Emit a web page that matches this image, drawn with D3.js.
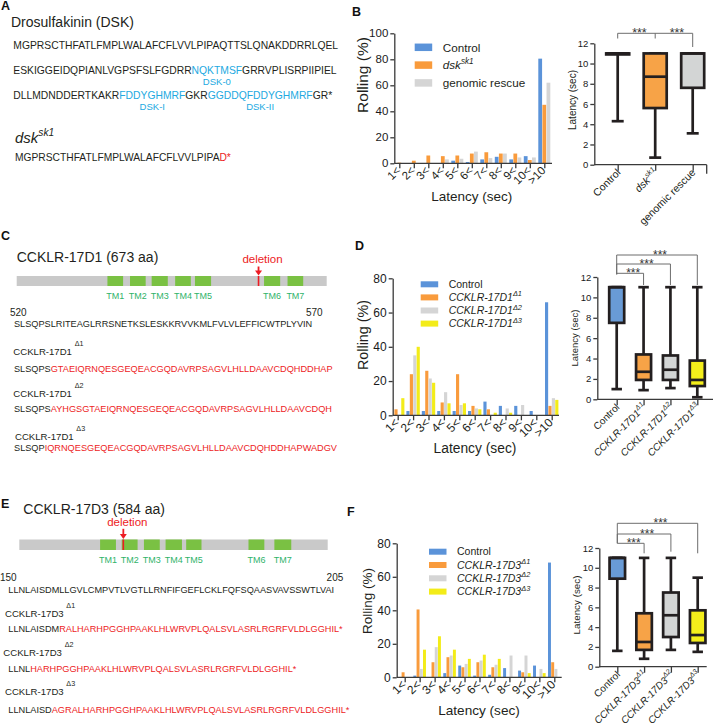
<!DOCTYPE html>
<html><head><meta charset="utf-8">
<script src="https://cdn.jsdelivr.net/npm/d3@7"></script>
<style>body{margin:0;background:#fff}</style>
</head><body>
<svg id="c" width="716" height="725"></svg>
<script>
// ---------------- DATA ----------------
const latencyCats = ["1<","2<","3<","4<","5<","6<","7<","8<","9<","10<",">10"];
const barTicksB = [0,20,40,60,80,100];
const barTicksDF = [0,20,40,60,80];
const boxTicks = [0,2,4,6,8,10,12];

// Panel B: % rolling by latency
const dskSeriesNames = ["Control","dsk","genomic rescue"];
const dskControl = [0,0,0,0,2,1,3,5,3,5.5,80.5];
const dskMutant  = [0.5,2,6,5.5,6,7.5,8.5,7.5,7.5,2.5,45];
const dskRescue  = [0,0,0,3,3.5,9,4,7.5,4.5,4.5,62];
// Panel B box plot [min,q1,median,q3,max]
const dskBoxGroups = ["Control","dsk","genomic rescue"];
const dskBoxStats = [[4.3,10.9,11,11,11],[0.7,5.6,8.7,11,11],[3.1,7.6,11,11,11]];

// Panel D
const d1SeriesNames = ["Control","D1","D2","D3"];
const d1Control = [0,2.5,2.5,2.5,2.5,2.5,8,5.5,5.5,2.5,66];
const d1Delta1  = [3.5,24,26,7.5,24,5.5,3.5,0,0,0,5.5];
const d1Delta2  = [0,35,21.5,13.5,6,4,0,4,6,0,10];
const d1Delta3  = [10,40,19,7,7,3.5,1.5,1.5,0,0,9];
const d1BoxGroups = ["Control","D1","D2","D3"];
const d1BoxStats = [[1,7.5,11,11,11],[0.9,1.9,2.7,4.4,11],[1.1,1.9,2.9,4.3,11],[0.2,1.3,1.9,3.8,11]];

// Panel F
const d3SeriesNames = ["Control","D1","D2","D3"];
const d3Control = [0,1,0,2.5,7,1,1.5,5.5,4,7,68.5];
const d3Delta1  = [3,40.5,9,12,6,9,6,0,3,0,9];
const d3Delta2  = [0,5,18,13,8,10,7.5,13,13,5,5];
const d3Delta3  = [0,16.5,24.5,16.5,11,13.5,11,0,2.5,2.5,0];
const d3BoxGroups = ["Control","D1","D2","D3"];
const d3BoxStats = [[1.6,8.9,11,11,11],[0.8,1.7,2.5,5.4,11],[1.7,3,5.2,7.5,11],[1.5,2.4,3.2,5.7,9]];

// Protein schematics (aa coordinates)
const cck17D1Length = 673;
const cck17D1TM = [[197,231],[246,280],[293,328],[344,378],[387,422],[537,572],[588,622]];
const cck17D1Deletion = 525;
const cck17D3Length = 584;
const cck17D3TM = [[153,183],[194,224],[236,266],[277,308],[316,345],[434,464],[483,515]];
const cck17D3Deletion = 197;
const tmLabels = ["TM1","TM2","TM3","TM4","TM5","TM6","TM7"];

// ---------------- STYLE ----------------
const FONT = "'Liberation Sans', Arial, Helvetica, sans-serif";
const INK = "#231f20";
const AX = "#3a3a3a";
const BLUE = "#5b93d9", ORANGE = "#f99b3c", GRAY = "#d5d5d5", YELLOW = "#f3ec19";
const BOXBLUE = "#699bd6", BOXORANGE = "#f7a347", BOXGRAY = "#d3d5d5", BOXYELLOW = "#f4ee1b";
const SEQBLUE = "#22a9e1", RED = "#ed1c24", TMGREEN = "#7ac143", TMTEXT = "#2fb36a", BARGRAY = "#c9c9c9";

const svg = d3.select("#c").attr("font-family", FONT);

function rich(g, x, y, segs, size, opt = {}) {
  const t = g.append("text").attr("x", x).attr("y", y).attr("font-size", size)
    .attr("fill", opt.fill || INK).attr("font-family", FONT);
  if (opt.anchor) t.attr("text-anchor", opt.anchor);
  if (opt.transform) t.attr("transform", opt.transform);
  if (opt.weight) t.attr("font-weight", opt.weight);
  const supK = opt.supK || 0.7, supDy = opt.supDy || 0.42;
  let up = false;
  segs.forEach(s => {
    const sp = t.append("tspan").text(s.t);
    if (s.c) sp.attr("fill", s.c);
    if (s.i) sp.attr("font-style", "italic");
    if (s.sup) { sp.attr("font-size", size * supK); if (!up) sp.attr("dy", -size * supDy); up = true; }
    else if (up) { sp.attr("dy", size * supDy); up = false; }
  });
  return t;
}
function fitRich(g, x, y, segs, target, opt = {}) {
  const t = rich(g, x, y, segs, 10, opt);
  const w = t.node().getComputedTextLength();
  t.remove();
  return rich(g, x, y, segs, 10 * target / w, opt);
}
function segCenter(textSel, segs, idx) {
  let start = 0;
  for (let i = 0; i < idx; i++) start += segs[i].t.length;
  const n = textSel.node();
  const a = n.getStartPositionOfChar(start).x;
  const b = n.getEndPositionOfChar(start + segs[idx].t.length - 1).x;
  return (a + b) / 2;
}
function label(g, x, y, s, size, opt = {}) {
  const t = g.append("text").attr("x", x).attr("y", y).attr("font-size", size)
    .attr("fill", opt.fill || INK).text(s);
  if (opt.anchor) t.attr("text-anchor", opt.anchor);
  if (opt.weight) t.attr("font-weight", opt.weight);
  if (opt.italic) t.attr("font-style", "italic");
  if (opt.transform) t.attr("transform", opt.transform);
  return t;
}

// ---------------- PANEL LETTERS ----------------
[["A",1,10],["B",352,16],["C",1,240],["D",355,250],["E",1,508],["F",347,516]]
  .forEach(([s,x,y]) => label(svg, x, y, s, 12.5, {weight: "bold", fill: "#111"}));

// ---------------- PANEL A ----------------
const gA = svg.append("g");
label(gA, 11, 26.5, "Drosulfakinin (DSK)", 14);
const seqA1 = [{t:"MGPRSCTHFATLFMPLWALAFCFLVVLPIPAQTTSLQNAKDDRRLQEL"}];
const seqA2 = [{t:"ESKIGGEIDQPIANLVGPSFSLFGDRR"},{t:"NQKTMSF",c:SEQBLUE},{t:"GRRVPLISRPIIPIEL"}];
const seqA3 = [{t:"DLLMDNDDERTKAKR"},{t:"FDDYGHMRF",c:SEQBLUE},{t:"GKR"},{t:"GGDDQFDDYGHMRF",c:SEQBLUE},{t:"GR*"}];
const seqA4 = [{t:"MGPRSCTHFATLFMPLWALAFCFLVVLPIPA"},{t:"D*",c:RED}];
fitRich(gA, 13.3, 49, seqA1, 325);
const tA2 = fitRich(gA, 13.3, 74, seqA2, 323.4);
const tA3 = fitRich(gA, 13.3, 99, seqA3, 319.4);
label(gA, segCenter(tA2, seqA2, 1), 85, "DSK-0", 9.5, {anchor:"middle", fill:SEQBLUE});
label(gA, segCenter(tA3, seqA3, 1), 109.5, "DSK-I", 9.5, {anchor:"middle", fill:SEQBLUE});
label(gA, segCenter(tA3, seqA3, 3), 109.5, "DSK-II", 9.5, {anchor:"middle", fill:SEQBLUE});
rich(gA, 15, 143.3, [{t:"dsk",i:true},{t:"sk1",i:true,sup:true}], 15, {supK:0.68, supDy:0.5});
fitRich(gA, 15, 160.7, seqA4, 216);

// ---------------- PROTEIN SCHEMATIC ----------------
function protein(g, o) {
  const s = d3.scaleLinear().domain([0, o.len]).range([o.x0, o.x1]);
  g.append("rect").attr("x", s(0)).attr("y", o.y).attr("width", s(o.len) - s(0)).attr("height", o.h).attr("fill", BARGRAY);
  g.selectAll("rect.tm").data(o.tm).join("rect").attr("class","tm")
    .attr("x", d => s(d[0])).attr("y", o.y).attr("width", d => s(d[1]) - s(d[0])).attr("height", o.h).attr("fill", TMGREEN);
  g.selectAll("text.tm").data(o.tm).join("text").attr("class","tm")
    .attr("x", d => (s(d[0]) + s(d[1])) / 2).attr("y", o.tmY).attr("text-anchor","middle")
    .attr("font-size", 9).attr("fill", TMTEXT).text((d,i) => tmLabels[i]);
  const dx = s(o.del);
  g.append("line").attr("x1", dx).attr("x2", dx).attr("y1", o.y).attr("y2", o.y + o.h).attr("stroke", RED).attr("stroke-width", 1.6);
  g.append("line").attr("x1", dx).attr("x2", dx).attr("y1", o.arrowTop).attr("y2", o.y - 4).attr("stroke", RED).attr("stroke-width", 1.8);
  g.append("path").attr("d", `M${dx-3.5},${o.y-5.5}L${dx+3.5},${o.y-5.5}L${dx},${o.y-0.5}Z`).attr("fill", RED);
  label(g, dx + 4, o.delY, "deletion", 11.5, {anchor:"middle", fill: RED});
}

// ---------------- PANEL C ----------------
const gC = svg.append("g");
label(gC, 16.7, 261.7, "CCKLR-17D1 (673 aa)", 14);
protein(gC, {len: cck17D1Length, x0: 16.7, x1: 326.7, y: 276, h: 10, tm: cck17D1TM, del: cck17D1Deletion, tmY: 299.3, arrowTop: 266.5, delY: 263.3});
label(gC, 10, 315.7, "520", 10);
label(gC, 322.7, 315.7, "570", 10, {anchor:"end"});
fitRich(gC, 14, 327.3, [{t:"SLSQPSLRITEAGLRRSNETKSLESKKRVVKMLFVLVLEFFICWTPLYVIN"}], 298.7);
const labOpt = {supK: 0.75, supDy: 0.95};
rich(gC, 13.3, 355, [{t:"CCKLR-17D1 "},{t:"Δ1",sup:true}], 9.6, labOpt);
fitRich(gC, 14, 372.3, [{t:"SLSQPS"},{t:"GTAEIQRNQESGEQEACGQDAVRPSAGVLHLLDAAVCDQHDDHAP",c:RED}], 319.3);
rich(gC, 13.3, 396.7, [{t:"CCKLR-17D1 "},{t:"Δ2",sup:true}], 9.6, labOpt);
fitRich(gC, 14, 411.7, [{t:"SLSQPS"},{t:"AYHGSGTAEIQRNQESGEQEACGQDAVRPSAGVLHLLDAAVCDQH",c:RED}], 318.7);
rich(gC, 15, 440, [{t:"CCKLR-17D1 "},{t:"Δ3",sup:true}], 9.6, labOpt);
fitRich(gC, 14, 450.7, [{t:"SLSQP"},{t:"IQRNQESGEQEACGQDAVRPSAGVLHLLDAAVCDQHDDHAPWADGV",c:RED}], 323.7);

// ---------------- PANEL E ----------------
const gE = svg.append("g");
label(gE, 23.3, 513.5, "CCKLR-17D3 (584 aa)", 14);
protein(gE, {len: cck17D3Length, x0: 19.3, x1: 327.7, y: 539.5, h: 10.5, tm: cck17D3TM, del: cck17D3Deletion, tmY: 563.3, arrowTop: 528.8, delY: 526.3});
label(gE, 0, 580.7, "150", 10);
label(gE, 343.3, 580.7, "205", 10, {anchor:"end"});
fitRich(gE, 8.3, 593.3, [{t:"LLNLAISDMLLGVLCMPVTLVGTLLRNFIFGEFLCKLFQFSQAASVAVSSWTLVAI"}], 326.7);
rich(gE, 5, 617.3, [{t:"CCKLR-17D3 "},{t:"Δ1",sup:true}], 9.6, labOpt);
fitRich(gE, 8.3, 631.7, [{t:"LLNLAISDM"},{t:"RALHARHPGGHPAAKLHLWRVPLQALSVLASRLRGRFVLDLGGHIL*",c:RED}], 335);
rich(gE, 3.3, 656, [{t:"CCKLR-17D3 "},{t:"Δ2",sup:true}], 9.6, labOpt);
fitRich(gE, 8.3, 672.3, [{t:"LLNL"},{t:"HARHPGGHPAAKLHLWRVPLQALSVLASRLRGRFVLDLGGHIL*",c:RED}], 288.4);
rich(gE, 5, 695, [{t:"CCKLR-17D3 "},{t:"Δ3",sup:true}], 9.6, labOpt);
fitRich(gE, 8.3, 713.3, [{t:"LLNLAISD"},{t:"AGRALHARHPGGHPAAKLHLWRVPLQALSVLASRLRGRFVLDLGGHIL*",c:RED}], 341.7);

// ---------------- BAR PANELS ----------------
function styleAxis(a, fs) {
  a.attr("font-family", FONT).attr("font-size", fs).attr("color", AX);
  a.selectAll("path,line").attr("stroke", AX).attr("stroke-width", 1.3);
  a.selectAll("text").attr("fill", "#1a1a1a");
}
function barPanel(o) {
  const g = svg.append("g");
  const y = d3.scaleLinear().domain([0, o.ymax]).range([o.y0, o.yTop]);
  const x = d3.scalePoint().domain(latencyCats).range([o.c0, o.c1]);
  const xi = d3.scaleBand().domain(o.names).range([-o.gw / 2, o.gw / 2]).paddingInner(0.08);
  o.series.forEach((vals, si) => {
    g.append("g").selectAll("rect").data(vals).join("rect")
      .attr("x", (d, i) => x(latencyCats[i]) + xi(o.names[si]))
      .attr("width", xi.bandwidth())
      .attr("y", d => y(d)).attr("height", d => y(0) - y(d))
      .attr("fill", o.colors[si]);
  });
  const ya = g.append("g").attr("transform", `translate(${o.ax},0)`)
    .call(d3.axisLeft(y).tickValues(o.yticks).tickSize(4).tickSizeOuter(0).tickPadding(2));
  styleAxis(ya, o.tickFs);
  const xa = g.append("g").attr("transform", `translate(0,${o.y0})`)
    .call(d3.axisBottom(x).tickSize(5).tickFormat(""));
  xa.select(".domain").remove();
  styleAxis(xa, o.tickFs);
  g.append("line").attr("x1", o.ax).attr("x2", o.axEnd).attr("y1", o.y0).attr("y2", o.y0)
    .attr("stroke", AX).attr("stroke-width", 1.3);
  latencyCats.forEach(c => label(g, 0, 0, c, o.xFs, {anchor: "end",
    transform: `translate(${x(c) + 2},${o.y0 + 8}) rotate(-45)`}));
  label(g, 0, 0, "Rolling (%)", o.yTitleFs, {anchor: "middle", transform: `translate(${o.yTitleX},${o.yTitleY}) rotate(-90)`});
  label(g, o.xTitleX, o.xTitleY, "Latency (sec)", o.xTitleFs, {anchor: "middle"});
  // legend
  o.legend.forEach((segs, i) => {
    const cy = o.legY0 + i * o.legStep;
    g.append("rect").attr("x", o.legX).attr("y", cy - o.legH / 2).attr("width", 17.5).attr("height", o.legH).attr("fill", o.colors[i]);
    rich(g, o.legX + 28, cy + o.legFs * 0.36, segs, o.legFs, {supK: 0.7, supDy: 0.45});
  });
}

barPanel({series: [dskControl, dskMutant, dskRescue], names: dskSeriesNames, colors: [BLUE, ORANGE, GRAY],
  ymax: 100, yticks: barTicksB, y0: 163.3, yTop: 33.3, c0: 399.3, c1: 544.3, gw: 12, ax: 394.3, axEnd: 552,
  tickFs: 11.5, xFs: 11.5, yTitleFs: 15.5, yTitleX: 368, yTitleY: 75, xTitleFs: 13.5, xTitleX: 471.7, xTitleY: 201,
  legX: 414.7, legY0: 47.3, legStep: 17.8, legH: 7.5, legFs: 11.7,
  legend: [[{t:"Control"}], [{t:"dsk",i:true},{t:"sk1",i:true,sup:true}], [{t:"genomic rescue"}]]});

barPanel({series: [d1Control, d1Delta1, d1Delta2, d1Delta3], names: d1SeriesNames, colors: [BLUE, ORANGE, GRAY, YELLOW],
  ymax: 80, yticks: barTicksDF, y0: 415.3, yTop: 278.3, c0: 397.7, c1: 551.7, gw: 13.4, ax: 392.7, axEnd: 559,
  tickFs: 12, xFs: 12, yTitleFs: 14.3, yTitleX: 368, yTitleY: 335, xTitleFs: 13.8, xTitleX: 475, xTitleY: 453,
  legX: 420.7, legY0: 284.3, legStep: 13.1, legH: 6, legFs: 10.5,
  legend: [[{t:"Control"}], [{t:"CCKLR-17D1",i:true},{t:"Δ1",i:true,sup:true}], [{t:"CCKLR-17D1",i:true},{t:"Δ2",i:true,sup:true}], [{t:"CCKLR-17D1",i:true},{t:"Δ3",i:true,sup:true}]]});

barPanel({series: [d3Control, d3Delta1, d3Delta2, d3Delta3], names: d3SeriesNames, colors: [BLUE, ORANGE, GRAY, YELLOW],
  ymax: 80, yticks: barTicksDF, y0: 677.3, yTop: 543.3, c0: 404.7, c1: 554.3, gw: 12.6, ax: 396.7, axEnd: 561.7,
  tickFs: 12, xFs: 12, yTitleFs: 13.5, yTitleX: 372, yTitleY: 601, xTitleFs: 13.6, xTitleX: 479, xTitleY: 715,
  legX: 429, legY0: 551.7, legStep: 13.3, legH: 6, legFs: 10.5,
  legend: [[{t:"Control"}], [{t:"CCKLR-17D3",i:true},{t:"Δ1",i:true,sup:true}], [{t:"CCKLR-17D3",i:true},{t:"Δ2",i:true,sup:true}], [{t:"CCKLR-17D3",i:true},{t:"Δ3",i:true,sup:true}]]});

// ---------------- BOX PANELS ----------------
function boxPanel(o) {
  const g = svg.append("g");
  const y = d3.scaleLinear().domain([0, 12]).range([o.y0, o.y12]);
  const x = d3.scalePoint().domain(o.groups).range([o.c0, o.c1]);
  const ya = g.append("g").attr("transform", `translate(${o.ax},0)`)
    .call(d3.axisLeft(y).tickValues(boxTicks).tickSize(4).tickSizeOuter(0).tickPadding(2));
  styleAxis(ya, o.tickFs);
  const xa = g.append("g").attr("transform", `translate(0,${o.y0})`)
    .call(d3.axisBottom(x).tickSize(6).tickFormat(""));
  xa.select(".domain").remove();
  styleAxis(xa, o.tickFs);
  g.append("line").attr("x1", o.ax).attr("x2", o.axEnd).attr("y1", o.y0).attr("y2", o.y0).attr("stroke", AX).attr("stroke-width", 1.3);
  if (o.endTick) g.append("line").attr("x1", o.axEnd).attr("x2", o.axEnd).attr("y1", o.y0).attr("y2", o.y0 + 9).attr("stroke", AX).attr("stroke-width", 1.3);
  const sw = 2.7;
  o.stats.forEach((s, i) => {
    const cx = x(o.groups[i]);
    const [mn, q1, md, q3, mx] = s;
    g.append("line").attr("x1", cx).attr("x2", cx).attr("y1", y(mn)).attr("y2", y(mx)).attr("stroke", INK).attr("stroke-width", sw);
    [mn, mx].forEach(v => g.append("line").attr("x1", cx - o.cw / 2).attr("x2", cx + o.cw / 2).attr("y1", y(v)).attr("y2", y(v)).attr("stroke", INK).attr("stroke-width", sw));
    g.append("rect").attr("x", cx - o.bw / 2).attr("y", y(q3)).attr("width", o.bw).attr("height", y(q1) - y(q3))
      .attr("fill", o.fills[i]).attr("stroke", INK).attr("stroke-width", sw);
    g.append("line").attr("x1", cx - o.bw / 2).attr("x2", cx + o.bw / 2).attr("y1", y(md)).attr("y2", y(md)).attr("stroke", INK).attr("stroke-width", sw);
    rich(g, 0, 0, o.labels[i], o.labFs, {anchor: "end", transform: `translate(${cx + 3.5},${o.y0 + 8.5}) rotate(-45)`, supK: 0.7, supDy: 0.45});
  });
  label(g, 0, 0, "Latency (sec)", o.yTitleFs, {anchor: "middle", transform: `translate(${o.yTitleX},${o.yTitleY}) rotate(-90)`});
  // significance brackets
  const bk = g.append("g").attr("stroke", "#6d6d6d").attr("stroke-width", 1).attr("fill", "none");
  o.brackets.forEach(b => {
    const xa_ = x(o.groups[b.from]) , xb = x(o.groups[b.to]);
    bk.append("path").attr("d", `M${xa_},${b.dropL}V${b.y}H${xb}V${b.dropR}`);
    if (b.mid !== undefined) bk.append("path").attr("d", `M${x(o.groups[b.mid])},${b.y}V${b.dropM}`);
    (b.stars || [[b.from, b.to]]).forEach(([p, q]) => {
      label(g, (x(o.groups[p]) + x(o.groups[q])) / 2 + 3, b.y + 3.6, "***", o.starFs, {anchor: "middle", fill: "#333"});
    });
  });
}

boxPanel({groups: dskBoxGroups, stats: dskBoxStats, fills: [BOXBLUE, BOXORANGE, BOXGRAY],
  y0: 164.7, y12: 43.3, c0: 617.7, c1: 692.7, ax: 594.3, axEnd: 706.7, endTick: true, bw: 23, cw: 12,
  tickFs: 9.5, labFs: 10.5, yTitleFs: 10, yTitleX: 576, yTitleY: 100, starFs: 12.5,
  labels: [[{t:"Control"}], [{t:"dsk",i:true},{t:"sk1",i:true,sup:true}], [{t:"genomic rescue"}]],
  brackets: [{from: 0, to: 2, y: 33.3, dropL: 38.5, dropR: 47, mid: 1, dropM: 38.5, stars: [[0,1],[1,2]]}]});

boxPanel({groups: d1BoxGroups, stats: d1BoxStats, fills: [BOXBLUE, BOXORANGE, BOXGRAY, BOXYELLOW],
  y0: 399.3, y12: 277, c0: 616.7, c1: 697.3, ax: 597.3, axEnd: 713, bw: 15, cw: 10.5,
  tickFs: 9.5, labFs: 10, yTitleFs: 9.5, yTitleX: 577.5, yTitleY: 338, starFs: 12,
  labels: [[{t:"Control"}], [{t:"CCKLR-17D1",i:true},{t:"Δ1",i:true,sup:true}], [{t:"CCKLR-17D1",i:true},{t:"Δ2",i:true,sup:true}], [{t:"CCKLR-17D1",i:true},{t:"Δ3",i:true,sup:true}]],
  brackets: [{from: 0, to: 3, y: 255, dropL: 274.3, dropR: 285}, {from: 0, to: 2, y: 264, dropL: 274.3, dropR: 285}, {from: 0, to: 1, y: 273.3, dropL: 274.3, dropR: 285}]});

boxPanel({groups: d3BoxGroups, stats: d3BoxStats, fills: [BOXBLUE, BOXORANGE, BOXGRAY, BOXYELLOW],
  y0: 666.7, y12: 548, c0: 617.3, c1: 697.7, ax: 599.3, axEnd: 706.7, bw: 15.5, cw: 10.5,
  tickFs: 9.5, labFs: 10, yTitleFs: 9.8, yTitleX: 580, yTitleY: 605, starFs: 12,
  labels: [[{t:"Control"}], [{t:"CCKLR-17D3",i:true},{t:"Δ1",i:true,sup:true}], [{t:"CCKLR-17D3",i:true},{t:"Δ2",i:true,sup:true}], [{t:"CCKLR-17D3",i:true},{t:"Δ3",i:true,sup:true}]],
  brackets: [{from: 0, to: 3, y: 523.3, dropL: 543.3, dropR: 553.3}, {from: 0, to: 2, y: 534, dropL: 543.3, dropR: 551.7}, {from: 0, to: 1, y: 543.3, dropL: 543.3, dropR: 553.3}]});
</script>
</body></html>
